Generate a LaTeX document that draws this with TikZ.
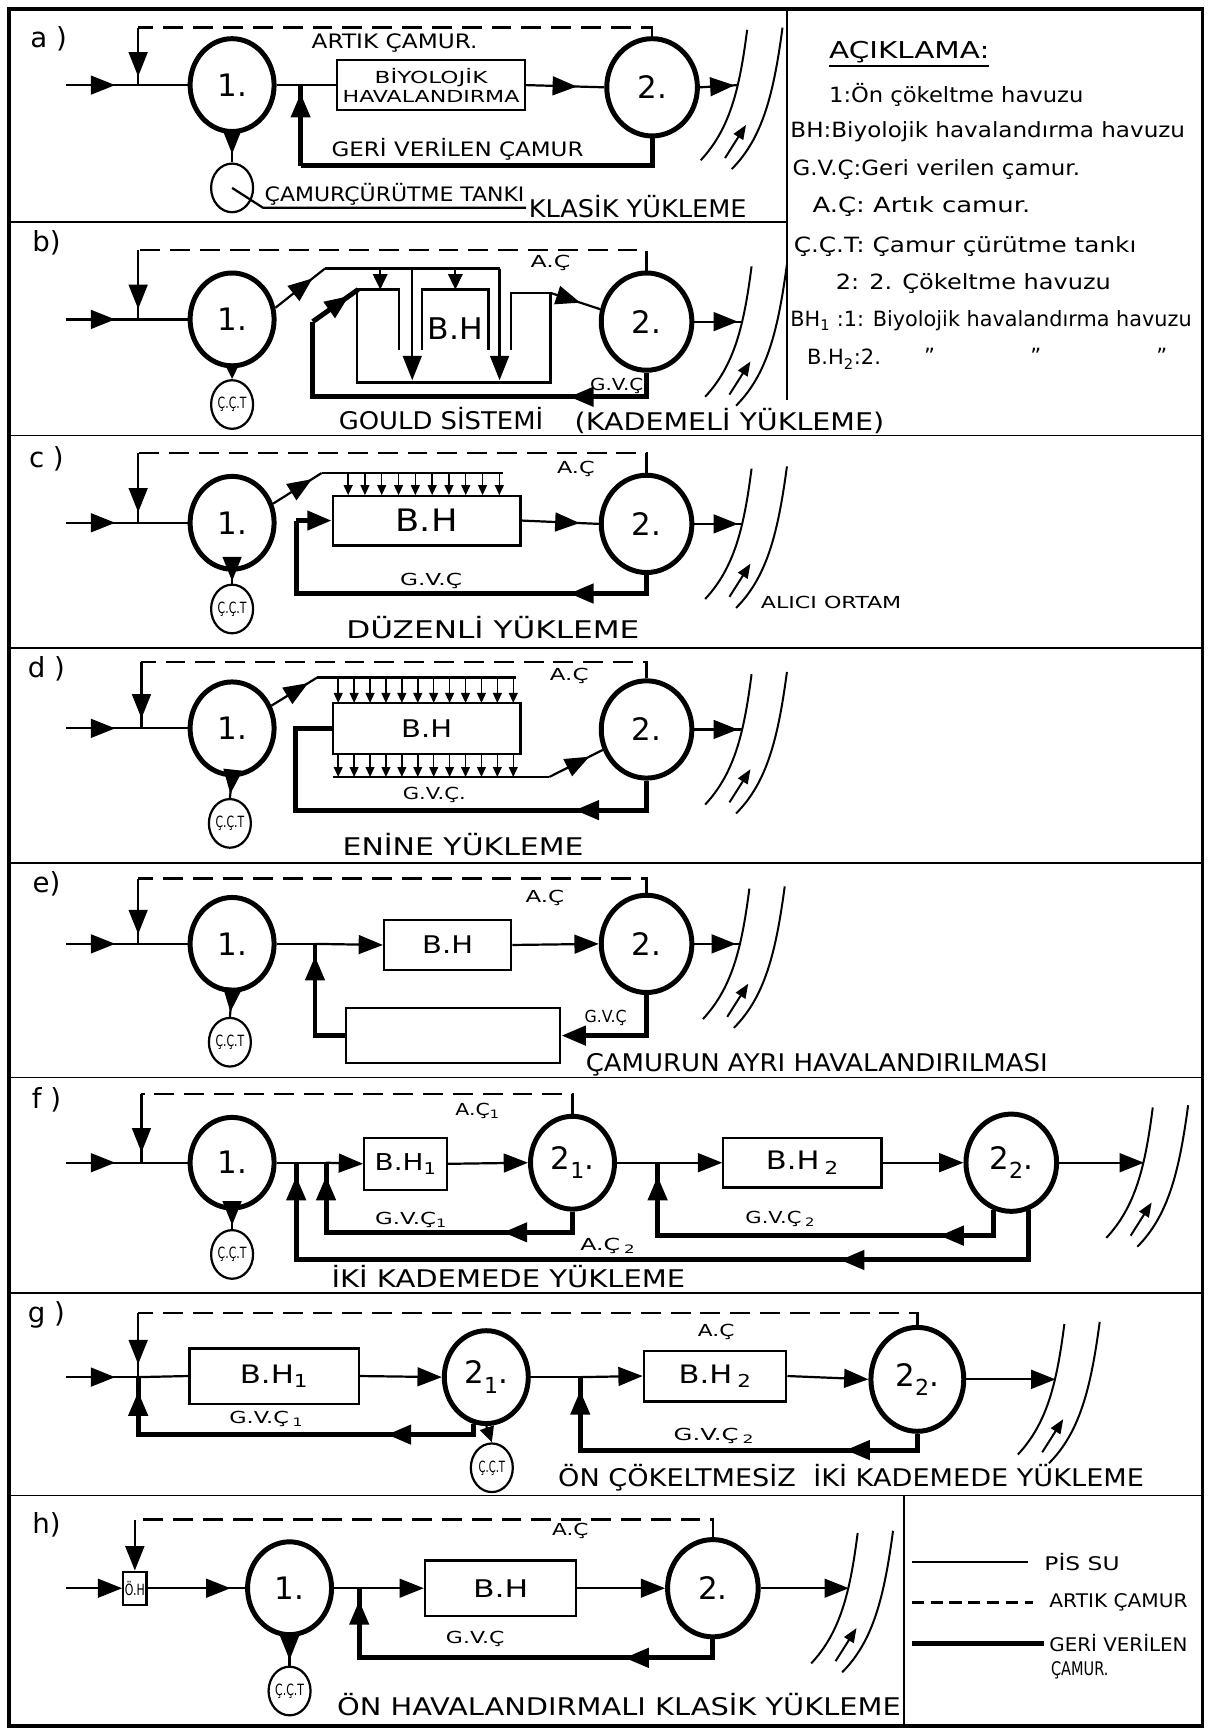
\documentclass[tikz,border=0pt]{standalone}
\usepackage{fontspec}
\setmainfont{DejaVu Sans}
\usetikzlibrary{arrows.meta,shapes.geometric,decorations.markings}
\newcommand\fsz[1]{\fontsize{#1}{#1}\selectfont}
\newcommand\fw[2]{\resizebox{#1pt}{\height}{#2}}
\newcommand\sbs[1]{\raisebox{-0.3em}{\fsz{20}#1}}
\newcommand\rivr[2]{%
  \draw[line width=1.8pt] ({#1+8},{#2-50}) .. controls ({#1+1},{#2+5}) and ({#1-8},{#2+40}) .. ({#1-34},{#2+68});
  \draw[line width=1.8pt] ({#1+40},{#2-52}) .. controls ({#1+32},{#2+8}) and ({#1+22},{#2+48}) .. ({#1-6},{#2+76});
  \draw[line width=1.8pt,-{Triangle[length=13pt,width=10pt]}] ({#1-12},{#2+66}) -- ({#1+7},{#2+36});
}
\tikzset{
  Tri/.tip={Triangle[length=22pt,width=17pt]},
  STri/.tip={Triangle[length=14pt,width=13pt]},
  SSTri/.tip={Triangle[length=9pt,width=8pt]},
  ma/.style={postaction={decorate,decoration={markings,mark=at position #1 with {\arrow{Tri}}}}},
  pipe/.style={line width=2pt},
  ret/.style={line width=4.5pt},
  waste/.style={line width=2.2pt,dash pattern=on 18pt off 9pt},
  tankA/.style={ellipse,draw,line width=4.5pt,minimum width=76pt,minimum height=84pt,inner sep=0pt,font=\fsz{28}},
  tankB/.style={tankA,minimum width=82pt,minimum height=88pt},
  basin/.style={rectangle,draw,line width=2pt,inner sep=0pt},
  cct/.style={ellipse,draw,line width=2pt,minimum width=38pt,minimum height=44pt,inner sep=0pt,font=\fsz{14}},
  lbl/.style={inner sep=0pt,font=\fsz{18}},
  sml/.style={inner sep=0pt,font=\fsz{15}},
  ttl/.style={inner sep=0pt,font=\fsz{22}},
  leg/.style={inner sep=0pt,anchor=west,font=\fsz{19}},
  plet/.style={inner sep=0pt,font=\fsz{25}},
}
\begin{document}
\begin{tikzpicture}[x=1pt,y=-1pt]
\useasboundingbox (0,0) rectangle (1094,1568);
% frame and dividers
\draw[line width=3.5pt] (8,8) rectangle (1088,1562);
\draw[line width=1.6pt] (8,201) -- (712,201);
\foreach \yy in {394,586,781,975,1170,1353} \draw[line width=1.6pt] (8,\yy) -- (1088,\yy);
\draw[line width=1.6pt] (712,8) -- (712,362);
\draw[line width=1.6pt] (818,1353) -- (818,1562);

% ================= a =================
\node[plet] at (44,35) {a )};
\node[tankA] (a1) at (210,77) {1.};
\node[tankB] (a2) at (590,79) {2.};
\node[basin,minimum width=170pt,minimum height=45pt,align=center,font=\fsz{15}] (abh) at (390,77) {\fw{102}{BİYOLOJİK}\\[2pt]\fw{160}{HAVALANDIRMA}};
\coordinate (ain) at (60,77);
\coordinate (aj) at (125,77);
\coordinate (ak) at (272,77);
\coordinate (ac) at (125,25);
\coordinate (ar) at (272,150);
\coordinate (aT) at (668,77);
\draw[pipe,ma=0.68] (ain) -- (aj);
\draw[pipe] (aj) -- (a1.west);
\draw[waste] (a2.north) |- (ac);
\draw[pipe,ma=0.85] (ac) -- (aj);
\draw[pipe] (a1.east) -- (abh.west);
\draw[pipe,ma=0.65] (abh.east) -- (a2.west);
\draw[ret] (a2.south) |- (ar);
\draw[ret,ma=0.9] (ar) -- (ak);
\draw[pipe,ma=0.9] (a2.east) -- (aT);
\rivr{668}{77}
\node[cct] (acct) at (210,170) {};
\draw[pipe,ma=0.7] (a1.south) -- (acct.north);
\coordinate (alead) at (238,188);
\coordinate (aund) at (476,188);
\draw[pipe] (acct.center) -- (alead) -- (aund);
\node[lbl] at (357,176) {\fw{235}{ÇAMURÇÜRÜTME TANKI}};
\node[lbl] at (357,39) {\fw{150}{ARTIK ÇAMUR.}};
\node[lbl] at (414,135) {\fw{228}{GERİ VERİLEN ÇAMUR}};
\node[ttl] at (577,187) {\fw{197}{KLASİK YÜKLEME}};

% legend top right
\node[leg,font=\fsz{21}] (lgt) at (750,47) {\fw{145}{AÇIKLAMA:}};
\draw[pipe] (lgt.south west) ++(0,3) -- ++(145,0);
\node[leg] at (750,86) {\fw{230}{1:Ön çökeltme havuzu}};
\node[leg] at (715,119) {\fw{357}{BH:Biyolojik havalandırma havuzu}};
\node[leg] at (717,153) {\fw{260}{G.V.Ç:Geri verilen çamur.}};
\node[leg] at (735,187) {\fw{197}{A.Ç: Artık camur.}};
\node[leg] at (718,223) {\fw{310}{Ç.Ç.T: Çamur çürütme tankı}};
\node[leg] at (756,257) {\fw{249}{2: 2. Çökeltme havuzu}};
\node[leg] at (715,290) {\fw{363}{BH\textsubscript{1} :1: Biyolojik havalandırma havuzu}};
\node[leg] at (730,325) {B.H\textsubscript{2}:2.};
\node[leg] at (836,322) {''};
\node[leg] at (932,322) {''};
\node[leg] at (1046,322) {''};

% ================= b =================
\node[plet] at (42,220) {b)};
\node[tankA] (b1) at (210,289) {1.};
\node[tankB] (b2) at (585,291) {2.};
\coordinate (bin) at (60,289);
\coordinate (bj) at (125,289);
\coordinate (bc) at (125,226);
\coordinate (bT) at (672,291);
\draw[pipe,ma=0.68] (bin) -- (bj);
\draw[pipe] (bj) -- (b1.west);
\draw[waste] (b2.north) |- (bc);
\draw[pipe,ma=0.85] (bc) -- (bj);
\node[cct] (bcct) at (210,366) {\fw{26}{Ç.Ç.T}};
\draw[pipe,-{STri}] (b1.south) -- (bcct.north);
\coordinate (bg0) at (294,243);
\coordinate (bg1) at (452,243);
\draw[pipe,ma=0.75] (b1.15) -- (bg0);
\draw[pipe] (bg0) -- (bg1);
\draw[pipe,-{STri}] (344,243) -- (344,262);
\draw[pipe,-{STri}] (412,243) -- (412,262);
\draw[pipe,-{Tri}] (373,243) -- (373,344);
\draw[pipe,-{Tri}] (bg1) -- (452,344);
\draw[pipe] (361,317) -- (361,262) -- (323,262) -- (323,346) -- (498,346) -- (498,265) -- (462,265) -- (462,317);
\draw[pipe] (382,317) -- (382,262) -- (442,262) -- (442,317);
\node[inner sep=0pt,font=\fsz{27}] at (412,297) {\fw{50}{B.H}};
\coordinate (bgr) at (498,265);
\draw[pipe,ma=0.6] (bgr) -- (b2.165);
\coordinate (bq) at (283,359);
\coordinate (bq1) at (283,291);
\coordinate (bq2) at (324,262);
\draw[ret] (b2.south) |- (bq) -- (bq1);
\draw[ret,ma=0.8] (bq1) -- (bq2);
\draw[ret,-{Tri}] (545,359) -- (515,359);
\node[sml] at (498,238) {\fw{36}{A.Ç}};
\node[sml] at (558,349) {\fw{48}{G.V.Ç}};
\draw[pipe,ma=0.9] (b2.east) -- (bT);
\rivr{672}{291}
\node[ttl] at (399,379) {\fw{185}{GOULD SİSTEMİ}};
\node[ttl] at (660,381) {\fw{280}{(KADEMELİ YÜKLEME)}};

% ================= c =================
\node[plet] at (42,415) {c )};
\node[tankA] (c1) at (210,473) {1.};
\node[tankB] (c2) at (585,474) {2.};
\coordinate (cin) at (60,473);
\coordinate (cj) at (125,473);
\coordinate (cc) at (125,410);
\coordinate (cT) at (672,474);
\draw[pipe,ma=0.68] (cin) -- (cj);
\draw[pipe] (cj) -- (c1.west);
\draw[waste] (c2.north) |- (cc);
\draw[pipe,ma=0.85] (cc) -- (cj);
\coordinate (cg0) at (291,428);
\coordinate (cg1) at (455,428);
\draw[pipe,ma=0.8] (c1.25) -- (cg0);
\draw[pipe] (cg0) -- (cg1);
\foreach \i in {0,...,9} \draw[line width=1.3pt,-{SSTri}] ({315+15.2*\i},428) -- ({315+15.2*\i},448);
\node[basin,minimum width=170pt,minimum height=45pt,font=\fsz{28}] (cbh) at (386,471) {\fw{56}{B.H}};
\draw[pipe,ma=0.75] (cbh.east) -- (c2.west);
\coordinate (cq) at (268,537);
\coordinate (cq1) at (268,471);
\draw[ret] (c2.south) |- (cq) -- (cq1);
\draw[ret,-{Tri}] (cq1) -- (cbh.west);
\draw[ret,-{Tri}] (545,537) -- (515,537);
\node[sml] at (390,526) {\fw{56}{G.V.Ç}};
\node[sml] at (521,424) {\fw{34}{A.Ç}};
\node[cct] (ccct) at (210,551) {\fw{26}{Ç.Ç.T}};
\draw[pipe,ma=0.8] (c1.south) -- (ccct.north);
\draw[pipe,ma=0.9] (c2.east) -- (cT);
\rivr{672}{474}
\node[sml] at (752,545) {\fw{127}{ALICI ORTAM}};
\node[ttl] at (446,568) {\fw{265}{DÜZENLİ YÜKLEME}};

% ================= d =================
\node[plet] at (42,605) {d )};
\node[tankA] (d1) at (210,659) {1.};
\node[tankB] (d2) at (585,660) {2.};
\coordinate (din) at (60,659);
\coordinate (dj) at (128,659);
\coordinate (dc) at (128,599);
\coordinate (dT) at (672,660);
\draw[pipe,ma=0.65] (din) -- (dj);
\draw[pipe] (dj) -- (d1.west);
\draw[waste] (d2.north) |- (dc);
\draw[pipe,ma=0.85] (dc) -- (dj);
\coordinate (dg0) at (287,613);
\coordinate (dg1) at (467,613);
\draw[pipe,ma=0.8] (d1.30) -- (dg0);
\draw[pipe] (dg0) -- (dg1);
\node[basin,minimum width=170pt,minimum height=46pt,font=\fsz{22}] (dbh) at (386,659) {\fw{46}{B.H}};
\foreach \i in {0,...,11} {
  \draw[line width=1.3pt,-{SSTri}] ({306+14.4*\i},613) -- ({306+14.4*\i},636);
  \draw[line width=1.3pt,-{SSTri}] ({306+14.4*\i},682) -- ({306+14.4*\i},703);
}
\coordinate (dd0) at (301,703);
\coordinate (dd1) at (497,703);
\draw[pipe] (dd0) -- (dd1);
\draw[pipe,ma=0.75] (dd1) -- (d2.205);
\coordinate (dq) at (267,733);
\coordinate (dq1) at (267,659);
\draw[ret] (d2.south) |- (dq) -- (dq1) -- (dbh.west);
\draw[ret,-{Tri}] (550,733) -- (520,733);
\node[sml] at (393,719) {\fw{57}{G.V.Ç.}};
\node[sml] at (515,612) {\fw{35}{A.Ç}};
\node[cct] (dcct) at (208,745) {\fw{26}{Ç.Ç.T}};
\draw[pipe,ma=0.8] (d1.south) -- (dcct.north);
\draw[pipe,ma=0.9] (d2.east) -- (dT);
\rivr{672}{660}
\node[ttl] at (419,764) {\fw{218}{ENİNE YÜKLEME}};

% ================= e =================
\node[plet] at (42,800) {e)};
\node[tankA] (e1) at (210,854) {1.};
\node[tankB] (e2) at (585,854) {2.};
\coordinate (ein) at (60,854);
\coordinate (ej) at (125,854);
\coordinate (ec) at (125,795);
\coordinate (ek) at (285,854);
\coordinate (eT) at (670,854);
\draw[pipe,ma=0.68] (ein) -- (ej);
\draw[pipe] (ej) -- (e1.west);
\draw[waste] (e2.north) |- (ec);
\draw[pipe,ma=0.85] (ec) -- (ej);
\node[basin,minimum width=115pt,minimum height=45pt,font=\fsz{22}] (ebh) at (405,855) {\fw{46}{B.H}};
\draw[pipe] (e1.east) -- (ek);
\draw[pipe,-{Tri}] (ek) -- (ebh.west);
\draw[pipe,-{Tri}] (ebh.east) -- (e2.west);
\node[basin,minimum width=194pt,minimum height=50pt] (ebox) at (410,937) {};
\draw[ret,-{Tri}] (e2.south) |- (ebox.east);
\draw[ret] (ebox.west) -| (ek);
\draw[ret,-{Tri}] (285,895) -- (285,865);
\node[sml] at (548,921) {\fw{38}{G.V.Ç}};
\node[sml] at (493,812) {\fw{35}{A.Ç}};
\node[cct] (ecct) at (208,943) {\fw{26}{Ç.Ç.T}};
\draw[pipe,ma=0.8] (e1.south) -- (ecct.north);
\draw[pipe,ma=0.9] (e2.east) -- (eT);
\rivr{670}{854}
\node[ttl] at (739,963) {\fw{418}{ÇAMURUN AYRI HAVALANDIRILMASI}};

% ================= f =================
\node[plet] at (42,995) {f )};
\node[tankA,minimum height=82pt] (f1) at (210,1052) {1.};
\node[tankA] (f21) at (518,1052) {2\sbs{1}.};
\node[tankB] (f22) at (915,1052) {2\sbs{2}.};
\coordinate (fin) at (60,1052);
\coordinate (fj) at (128,1052);
\coordinate (fc) at (128,990);
\coordinate (fk1) at (268,1052);
\coordinate (fk2) at (295,1052);
\coordinate (fk3) at (595,1052);
\coordinate (fT) at (1035,1052);
\draw[pipe,ma=0.65] (fin) -- (fj);
\draw[pipe] (fj) -- (f1.west);
\draw[waste] (f21.north) |- (fc);
\draw[pipe,ma=0.85] (fc) -- (fj);
\node[basin,minimum width=75pt,minimum height=47pt,font=\fsz{21}] (fbh1) at (367,1053) {\fw{56}{B.H\textsubscript{1}}};
\node[basin,minimum width=143pt,minimum height=45pt,font=\fsz{23}] (fbh2) at (726,1052) {\fw{66}{B.H\,\textsubscript{2}}};
\draw[pipe] (f1.east) -- (fk2);
\draw[pipe,-{Tri}] (fk2) -- (fbh1.west);
\draw[pipe,-{Tri}] (fbh1.east) -- (f21.west);
\draw[pipe] (f21.east) -- (fk3);
\draw[pipe,-{Tri}] (fk3) -- (fbh2.west);
\draw[pipe,-{Tri}] (fbh2.east) -- (f22.west);
\draw[pipe,-{Tri}] (f22.east) -- (fT);
\rivr{1035}{1052}
\coordinate (fq1) at (295,1115);
\coordinate (fq2) at (595,1118);
\coordinate (fq3) at (268,1140);
\draw[ret] (f21.south) |- (fq1) -- (fk2);
\draw[ret] (f22.250) |- (fq2) -- (fk3);
\draw[ret] (f22.290) |- (fq3) -- (fk1);
\draw[ret,-{Tri}] (295,1095) -- (295,1064);
\draw[ret,-{Tri}] (595,1095) -- (595,1064);
\draw[ret,-{Tri}] (268,1095) -- (268,1064);
\draw[ret,-{Tri}] (485,1115) -- (455,1115);
\draw[ret,-{Tri}] (880,1118) -- (850,1118);
\draw[ret,-{Tri}] (790,1140) -- (760,1140);
\node[sml] at (432,1005) {\fw{40}{A.Ç\textsubscript{1}}};
\node[sml] at (372,1104) {\fw{65}{G.V.Ç\textsubscript{1}}};
\node[sml] at (706,1103) {\fw{63}{G.V.Ç\,\textsubscript{2}}};
\node[sml] at (550,1127) {\fw{50}{A.Ç\,\textsubscript{2}}};
\node[cct] (fcct) at (210,1135) {\fw{26}{Ç.Ç.T}};
\draw[pipe,ma=0.8] (f1.south) -- (fcct.north);
\node[ttl] at (460,1155) {\fw{320}{İKİ KADEMEDE YÜKLEME}};

% ================= g =================
\node[plet] at (42,1190) {g )};
\node[basin,minimum width=153pt,minimum height=50pt,font=\fsz{23}] (gbh1) at (248,1245) {\fw{62}{B.H\textsubscript{1}}};
\node[tankA] (g21) at (440,1246) {2\sbs{1}.};
\node[tankB,minimum width=84pt,minimum height=94pt] (g22) at (830,1248) {2\sbs{2}.};
\node[basin,minimum width=129pt,minimum height=46pt,font=\fsz{23}] (gbh2) at (647,1245) {\fw{66}{B.H\,\textsubscript{2}}};
\coordinate (gin) at (60,1246);
\coordinate (gj) at (125,1246);
\coordinate (gc) at (125,1188);
\coordinate (gk) at (525,1246);
\coordinate (gT) at (955,1248);
\draw[pipe,ma=0.68] (gin) -- (gj);
\draw[pipe] (gj) -- (gbh1.west);
\draw[waste] (g22.north) |- (gc);
\draw[pipe,ma=0.8] (gc) -- (gj);
\draw[pipe,-{Tri}] (gbh1.east) -- (g21.west);
\draw[pipe] (g21.east) -- (gk);
\draw[pipe,-{Tri}] (gk) -- (gbh2.west);
\draw[pipe,-{Tri}] (gbh2.east) -- (g22.west);
\draw[pipe,-{Tri}] (g22.east) -- (gT);
\rivr{955}{1248}
\coordinate (gq1) at (125,1298);
\coordinate (gq2) at (525,1312);
\draw[ret] (g21.255) |- (gq1) -- (gj);
\draw[ret,-{Tri}] (125,1290) -- (125,1259);
\draw[ret] (g22.south) |- (gq2) -- (gk);
\draw[ret,-{Tri}] (525,1290) -- (525,1258);
\draw[ret,-{Tri}] (380,1298) -- (350,1298);
\draw[ret,-{Tri}] (795,1312) -- (765,1312);
\node[cct] (gcct) at (445,1328) {\fw{24}{Ç.Ç.T}};
\draw[pipe,-{STri}] (g21.south) -- (gcct.north);
\node[sml] at (648,1205) {\fw{33}{A.Ç}};
\node[sml] at (241,1284) {\fw{67}{G.V.Ç\,\textsubscript{1}}};
\node[sml] at (646,1299) {\fw{73}{G.V.Ç\,\textsubscript{2}}};
\node[ttl] at (770,1337) {\fw{530}{ÖN ÇÖKELTMESİZ\ \ İKİ KADEMEDE YÜKLEME}};

% ================= h =================
\node[plet] at (42,1380) {h)};
\node[basin,minimum width=21pt,minimum height=30pt,font=\fsz{14}] (hoh) at (122,1437) {\fw{18}{Ö.H}};
\node[tankA] (h1) at (262,1437) {1.};
\node[tankB] (h2) at (645,1437) {2.};
\node[basin,minimum width=137pt,minimum height=50pt,font=\fsz{22}] (hbh) at (453,1437) {\fw{50}{B.H}};
\coordinate (hin) at (60,1437);
\coordinate (hc) at (122,1375);
\coordinate (hk) at (325,1437);
\coordinate (hT) at (768,1437);
\draw[pipe,-{Tri}] (hin) -- (hoh.west);
\draw[waste] (h2.north) |- (hc);
\draw[pipe,-{Tri}] (hc) -- (hoh.north);
\draw[pipe,ma=0.85] (hoh.east) -- (h1.west);
\draw[pipe] (h1.east) -- (hk);
\draw[pipe,-{Tri}] (hk) -- (hbh.west);
\draw[pipe,-{Tri}] (hbh.east) -- (h2.west);
\draw[pipe,-{Tri}] (h2.east) -- (hT);
\rivr{768}{1437}
\coordinate (hq) at (325,1500);
\draw[ret] (h2.south) |- (hq) -- (hk);
\draw[ret,-{Tri}] (325,1478) -- (325,1448);
\draw[ret,-{Tri}] (595,1500) -- (565,1500);
\node[sml] at (516,1385) {\fw{33}{A.Ç}};
\node[sml] at (430,1483) {\fw{53}{G.V.Ç}};
\node[cct] (hcct) at (262,1530) {\fw{26}{Ç.Ç.T}};
\draw[pipe,ma=0.8] (h1.south) -- (hcct.north);
\node[ttl] at (560,1542) {\fw{510}{ÖN HAVALANDIRMALI KLASİK YÜKLEME}};
% legend bottom right
\coordinate (l1a) at (825,1413); \coordinate (l1b) at (930,1413);
\coordinate (l2a) at (825,1450); \coordinate (l2b) at (935,1450);
\coordinate (l3a) at (825,1487); \coordinate (l3b) at (945,1487);
\draw[pipe] (l1a) -- (l1b);
\draw[line width=2pt,dash pattern=on 11pt off 6pt] (l2a) -- (l2b);
\draw[ret] (l3a) -- (l3b);
\node[sml,font=\fsz{17}] at (979,1413) {\fw{68}{PİS SU}};
\node[sml,font=\fsz{17}] at (1012,1450) {\fw{125}{ARTIK ÇAMUR}};
\node[sml,font=\fsz{17}] at (1012,1487) {\fw{125}{GERİ VERİLEN}};
\node[sml,font=\fsz{17}] at (977,1511) {\fw{52}{ÇAMUR.}};
\end{tikzpicture}
\end{document}
